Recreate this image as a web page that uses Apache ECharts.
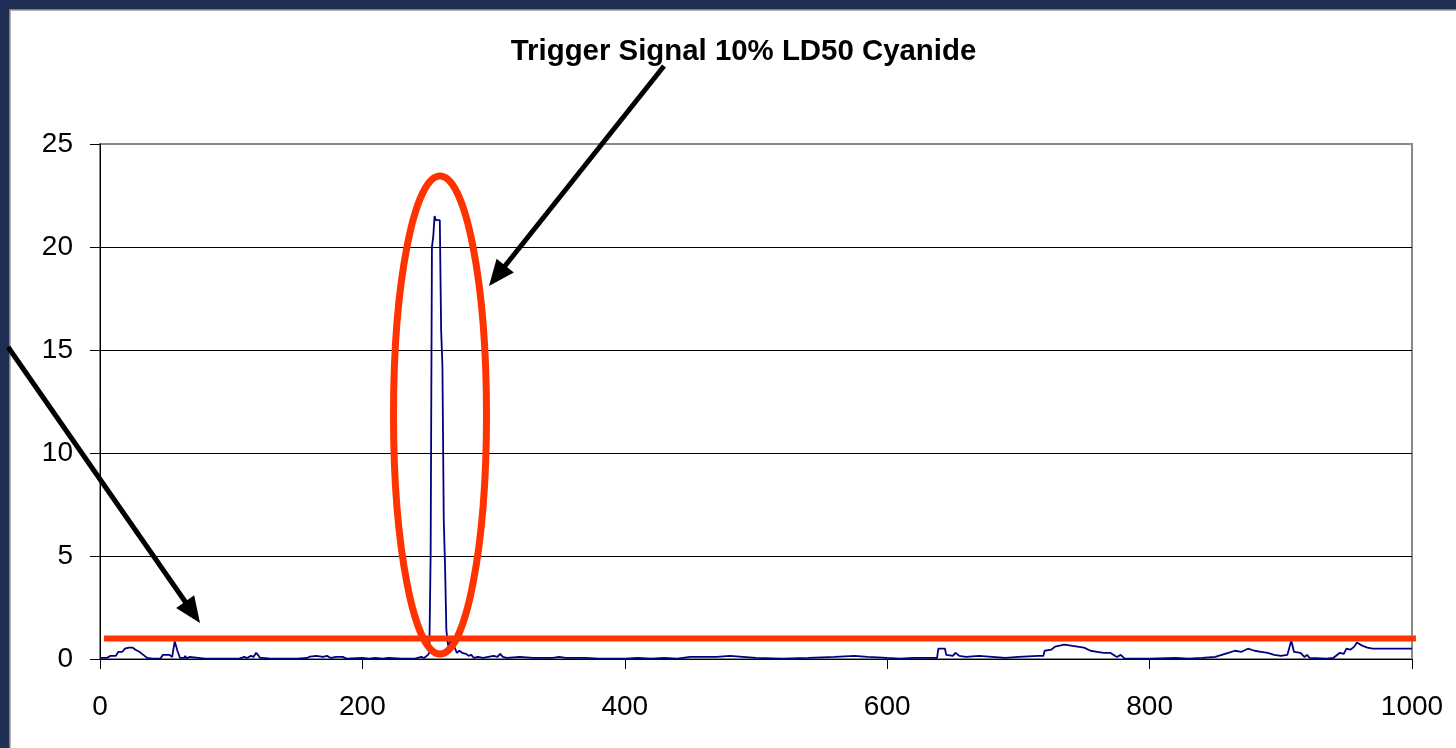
<!DOCTYPE html>
<html>
<head>
<meta charset="utf-8">
<script src="https://cdn.jsdelivr.net/npm/echarts@6/dist/echarts.min.js"></script>
<style>
html,body{margin:0;padding:0;background:#1f2e54;}
#c{width:1456px;height:748px;}
</style>
</head>
<body>
<div id="c"></div>
<script>
const titleText = "Trigger Signal 10% LD50 Cyanide";
const xTicks = [0, 200, 400, 600, 800, 1000];
const yTicks = [0, 5, 10, 15, 20, 25];
const threshold = 1;

const xs = [0,5,8,12,14,17,19,22,25,27,30,33,36,40,46,48,53,55,56,57,59,60,61,64,65,66,68,69,80,92,93,94,106,107,110,112,115,117,119,121,122,124,130,150,158,160,165,170,173,176,180,185,188,200,205,210,215,220,230,240,245,247,250,251,252,253,254,255,256,259,260,261,262,263,264,265,266,267,268,270,272,274,276,279,281,283,285,288,292,296,300,303,305,307,310,320,330,345,350,355,370,380,400,410,420,430,440,450,470,480,490,500,520,540,560,575,585,600,610,620,638,639,644,645,650,652,655,660,670,680,690,700,715,719,720,725,728,735,740,745,750,755,760,765,770,775,778,781,800,820,830,840,850,855,860,865,870,875,880,885,890,895,900,905,908,910,915,918,920,922,935,940,945,948,950,953,956,958,962,966,970,1000];
const ys = [0.05,0.05,0.15,0.15,0.35,0.35,0.5,0.55,0.55,0.45,0.35,0.2,0.05,0.02,0.02,0.2,0.2,0.1,0.5,0.85,0.4,0.35,0.05,0.05,0.15,0.02,0.1,0.02,0.02,0.02,0.1,0.02,0.02,0.1,0.1,0.05,0.15,0.1,0.3,0.15,0.05,0.05,0.02,0.02,0.05,0.12,0.15,0.1,0.15,0.05,0.1,0.1,0.02,0.05,0.02,0.05,0.02,0.05,0.02,0.02,0.1,0.05,0.2,0.3,5,20,20.5,21.5,21.3,21.3,16,14.2,6.8,4.5,1.4,0.8,0.5,0.9,0.5,0.6,0.3,0.4,0.3,0.25,0.15,0.2,0.05,0.1,0.05,0.1,0.15,0.1,0.25,0.1,0.05,0.1,0.05,0.05,0.1,0.05,0.05,0.02,0.02,0.05,0.02,0.05,0.02,0.1,0.1,0.15,0.1,0.05,0.02,0.05,0.1,0.15,0.1,0.05,0.02,0.05,0.05,0.5,0.5,0.2,0.15,0.3,0.15,0.1,0.15,0.1,0.05,0.1,0.15,0.15,0.4,0.45,0.6,0.7,0.65,0.6,0.55,0.4,0.35,0.3,0.3,0.1,0.2,0.02,0.02,0.05,0.02,0.05,0.1,0.2,0.3,0.4,0.35,0.5,0.4,0.35,0.3,0.2,0.15,0.2,0.9,0.35,0.3,0.1,0.2,0.05,0.02,0.05,0.3,0.25,0.5,0.45,0.6,0.8,0.65,0.55,0.5,0.5];

const FONT = "'Liberation Sans', Arial, sans-serif";
const chart = echarts.init(document.getElementById('c'), null, {renderer: 'canvas'});

function arrow(x1, y1, x2, y2, w, headLen, headW) {
  const dx = x2 - x1, dy = y2 - y1, L = Math.hypot(dx, dy);
  const ux = dx / L, uy = dy / L, px = -uy, py = ux;
  const bx = x2 - ux * headLen, by = y2 - uy * headLen;
  return [
    {type: 'line', z: 100, shape: {x1: x1, y1: y1, x2: bx + ux * 2, y2: by + uy * 2},
     style: {stroke: '#000', lineWidth: w}},
    {type: 'polygon', z: 100, shape: {points: [[x2, y2], [bx + px * headW, by + py * headW], [bx - px * headW, by - py * headW]]},
     style: {fill: '#000'}}
  ];
}

const option = {
  backgroundColor: '#1f2e54',
  animation: false,
  grid: {left: 100, right: 44, top: 144, bottom: 89, show: true, borderColor: '#8a8a8a', borderWidth: 2, backgroundColor: 'transparent'},
  xAxis: {
    type: 'value', min: xTicks[0], max: xTicks[xTicks.length - 1], interval: 200,
    axisLine: {show: true, lineStyle: {color: '#000', width: 1}},
    axisTick: {show: true, inside: false, length: 10, lineStyle: {color: '#000', width: 1}},
    axisLabel: {color: '#000', fontFamily: FONT, fontSize: 28, margin: 34, formatter: v => String(v)},
    splitLine: {show: false}
  },
  yAxis: {
    type: 'value', min: yTicks[0], max: yTicks[yTicks.length - 1], interval: 5,
    axisLine: {show: true, lineStyle: {color: '#000', width: 1}},
    axisTick: {show: true, inside: false, length: 10, lineStyle: {color: '#000', width: 1}},
    axisLabel: {color: '#000', fontFamily: FONT, fontSize: 28, margin: 27, formatter: v => String(v)},
    splitLine: {show: true, lineStyle: {color: ['#000', '#000', '#000', '#000', '#000', '#8a8a8a'], width: 1}}
  },
  series: [{
    type: 'line',
    data: xs.map((x, i) => [x, ys[i]]),
    showSymbol: false,
    symbol: 'none',
    lineStyle: {color: '#000080', width: 1.8},
    z: 3
  }]
};
chart.setOption(option);

const pL = chart.convertToPixel({gridIndex: 0}, [3, threshold]);
const pR = chart.convertToPixel({gridIndex: 0}, [1003, threshold]);

const graphics = [
  {type: 'rect', z: -10, shape: {x: 10, y: 10, width: 1460, height: 760},
   style: {fill: '#fff', stroke: '#9a9a9a', lineWidth: 1.5}},
  {type: 'text', z: 100, x: 743.5, y: 52,
   style: {text: titleText, fontFamily: FONT, fontWeight: 'bold', fontSize: 29.4, fill: '#000', textAlign: 'center', textVerticalAlign: 'middle'}},
  {type: 'line', z: 100, shape: {x1: pL[0], y1: pL[1], x2: pR[0], y2: pR[1]},
   style: {stroke: '#ff3300', lineWidth: 6}},
  {type: 'ellipse', z: 101, shape: {cx: 440, cy: 415, rx: 46.5, ry: 239},
   style: {stroke: '#ff3300', lineWidth: 7, fill: 'none'}}
].concat(arrow(664, 66, 489, 286, 5, 26, 11)).concat(arrow(8, 347, 200, 623, 5, 26, 11));

chart.setOption({graphic: graphics});
</script>
</body>
</html>
